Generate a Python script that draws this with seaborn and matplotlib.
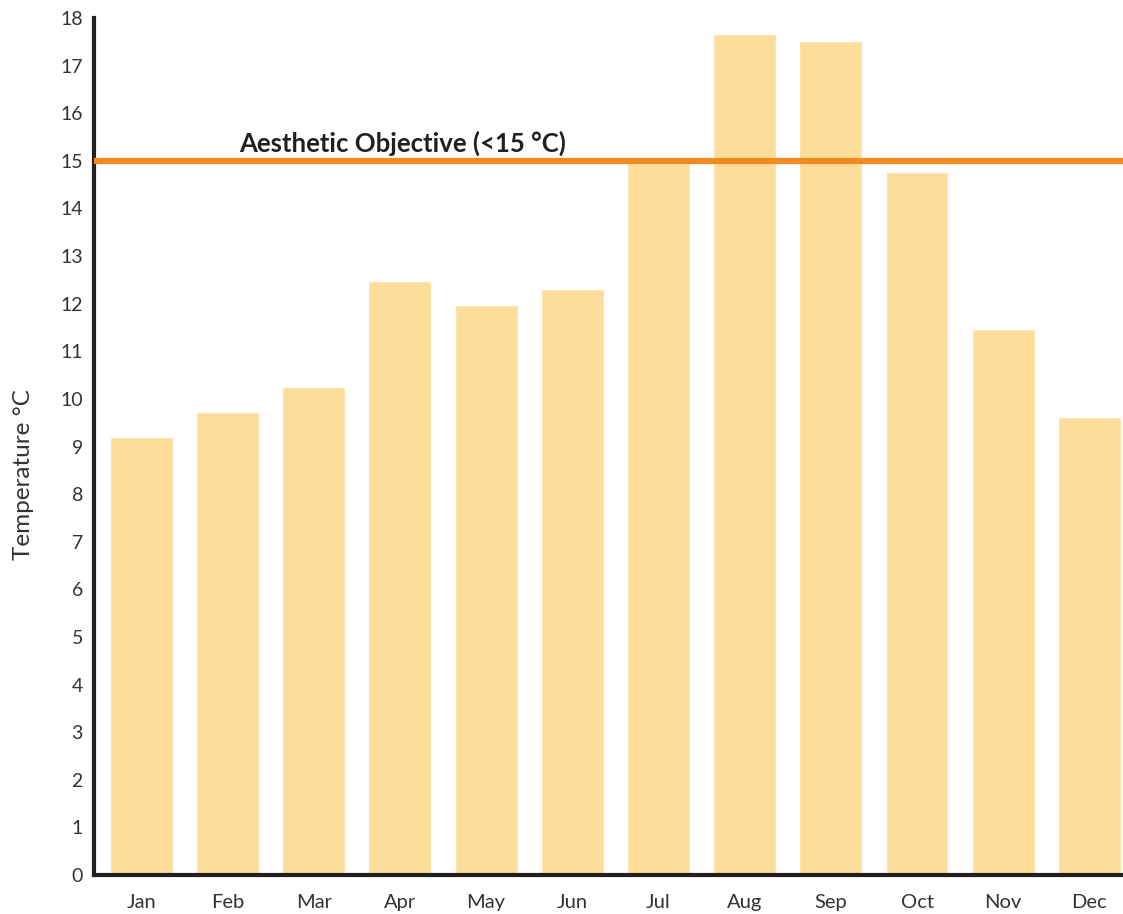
import matplotlib
matplotlib.use("Agg")
import matplotlib.pyplot as plt
import seaborn as sns
import pandas as pd

# data
months = ["Jan", "Feb", "Mar", "Apr", "May", "Jun",
          "Jul", "Aug", "Sep", "Oct", "Nov", "Dec"]
temps = [9.21, 9.73, 10.24, 12.47, 11.98, 12.30,
         14.95, 17.66, 17.51, 14.76, 11.46, 9.63]
objective = 15
objective_label = "Aesthetic Objective (<15 °C)"

df = pd.DataFrame({"month": months, "temp": temps})

sns.set_style("white")
plt.rcParams["font.family"] = ["Lato", "DejaVu Sans"]

dark = "#231f20"
fig = plt.figure(figsize=(11.23, 9.14), dpi=100)
ax = fig.add_axes([94 / 1123, 39 / 914, 1 - 94 / 1123, (875 - 18) / 914])

sns.barplot(data=df, x="month", y="temp", color="#fddd99", saturation=1,
            width=0.73, ax=ax)

ax.axhline(objective, color="#f08c1e", lw=4.5, zorder=5)
ax.text(3.03, objective + 0.1, objective_label, fontsize=18.5, fontweight="bold",
        color=dark, ha="center", va="bottom")

ax.set_xlim(-0.55, 11.39)
ax.set_ylim(0, 18)
ax.set_yticks(range(0, 19))
ax.set_xlabel("")
ax.set_ylabel("Temperature °C", fontsize=17.5, color="#333333")
ax.yaxis.set_label_coords(-0.058, 0.467)

for side in ["top", "right"]:
    ax.spines[side].set_visible(False)
for side in ["left", "bottom"]:
    ax.spines[side].set_linewidth(3)
    ax.spines[side].set_color(dark)

ax.tick_params(axis="y", direction="in", length=6, width=3, color=dark,
               labelsize=14, labelcolor="#333333", pad=8)
ax.tick_params(axis="x", length=0, labelsize=14.5, labelcolor="#333333", pad=14)

fig.savefig("out.png", dpi=100)
